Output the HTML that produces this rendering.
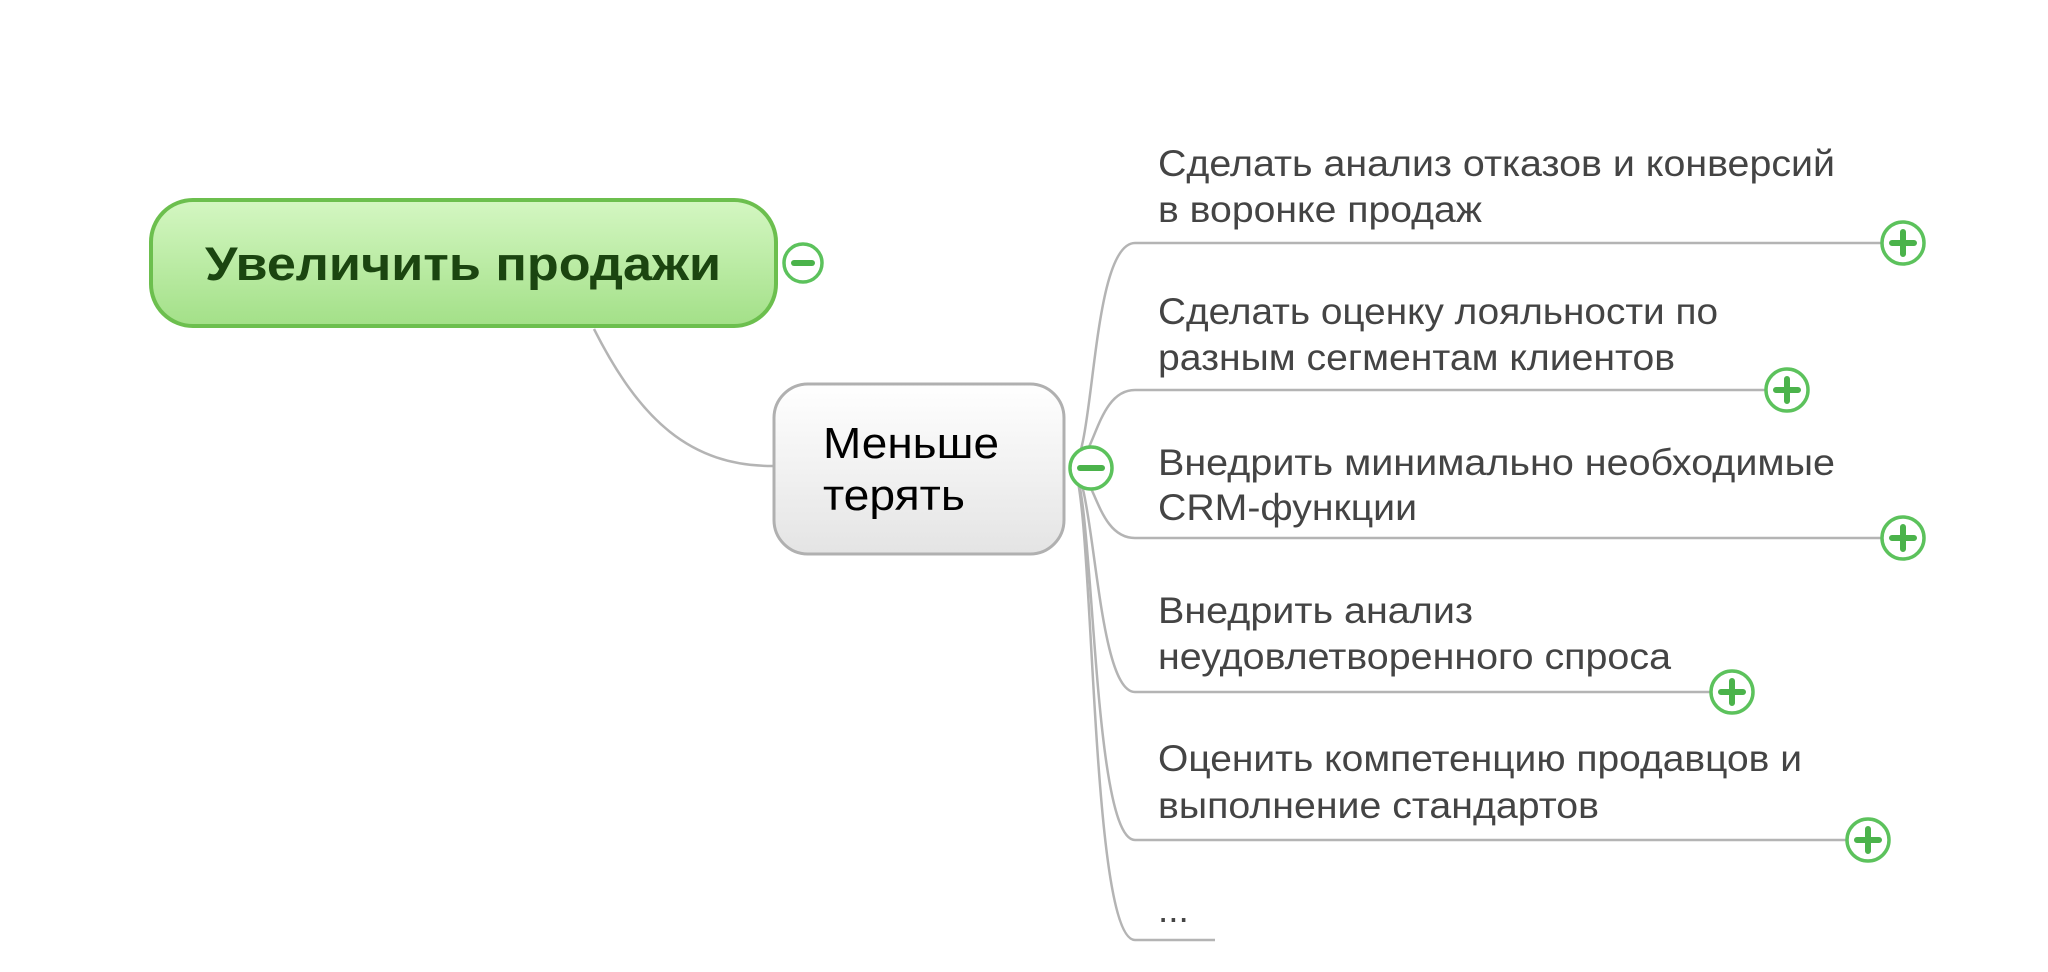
<!DOCTYPE html>
<html><head><meta charset="utf-8"><style>
html,body{margin:0;padding:0;background:#fff;}
svg{display:block;}
</style></head><body>
<svg width="2048" height="972" viewBox="0 0 2048 972" xmlns="http://www.w3.org/2000/svg">
<defs>
<linearGradient id="g1" x1="0" y1="0" x2="0" y2="1">
<stop offset="0" stop-color="#d4f7c2"/><stop offset="1" stop-color="#a3e088"/>
</linearGradient>
<linearGradient id="g2" x1="0" y1="0" x2="0" y2="1">
<stop offset="0" stop-color="#ffffff"/><stop offset="1" stop-color="#e4e4e4"/>
</linearGradient>
</defs>
<g fill="none" stroke="#b4b4b4" stroke-width="2.5">
<path d="M594,329 C640,420 690,466 773,466"/>
<path d="M1071,466 C1095,466 1090,243 1135,243 L1881,243"/>
<path d="M1071,466 C1095,466 1095,390 1135,390 L1765,390"/>
<path d="M1071,466 C1095,466 1095,538 1135,538 L1881,538"/>
<path d="M1071,466 C1095,466 1095,692 1135,692 L1710,692"/>
<path d="M1071,466 C1095,466 1090,840 1135,840 L1846,840"/>
<path d="M1071,466 C1095,466 1088,940 1135,940 L1215,940"/>
</g>
<rect x="151" y="200" width="625" height="126" rx="42" fill="url(#g1)" stroke="#6cbf4e" stroke-width="4"/>
<text x="205" y="280" textLength="516" lengthAdjust="spacingAndGlyphs" font-family="Liberation Sans, sans-serif" font-weight="bold" font-size="47" fill="#1b4510">Увеличить продажи</text>
<rect x="774" y="384" width="290" height="170" rx="34" fill="url(#g2)" stroke="#b0b0b0" stroke-width="3"/>
<g font-family="Liberation Sans, sans-serif" font-size="44" fill="#000">
<text x="823" y="458" textLength="176" lengthAdjust="spacingAndGlyphs">Меньше</text>
<text x="823" y="510" textLength="142" lengthAdjust="spacingAndGlyphs">терять</text>
</g>
<g font-family="Liberation Sans, sans-serif" font-size="37" fill="#444">
<text x="1158" y="176" textLength="677" lengthAdjust="spacingAndGlyphs">Сделать анализ отказов и конверсий</text>
<text x="1158" y="222" textLength="324" lengthAdjust="spacingAndGlyphs">в воронке продаж</text>
<text x="1158" y="324" textLength="560" lengthAdjust="spacingAndGlyphs">Сделать оценку лояльности по</text>
<text x="1158" y="370" textLength="517" lengthAdjust="spacingAndGlyphs">разным сегментам клиентов</text>
<text x="1158" y="475" textLength="677" lengthAdjust="spacingAndGlyphs">Внедрить минимально необходимые</text>
<text x="1158" y="520" textLength="259" lengthAdjust="spacingAndGlyphs">CRM-функции</text>
<text x="1158" y="623" textLength="315" lengthAdjust="spacingAndGlyphs">Внедрить анализ</text>
<text x="1158" y="669" textLength="513" lengthAdjust="spacingAndGlyphs">неудовлетворенного спроса</text>
<text x="1158" y="771" textLength="644" lengthAdjust="spacingAndGlyphs">Оценить компетенцию продавцов и</text>
<text x="1158" y="818" textLength="441" lengthAdjust="spacingAndGlyphs">выполнение стандартов</text>
<text x="1158" y="922">...</text>
</g>
<g stroke="#5cc25c" stroke-width="3.5" fill="#fff">
<circle cx="803" cy="263" r="19"/>
<circle cx="1091" cy="468" r="21"/>
<circle cx="1903" cy="243" r="21"/>
<circle cx="1787" cy="390" r="21"/>
<circle cx="1903" cy="538" r="21"/>
<circle cx="1732" cy="692" r="21"/>
<circle cx="1868" cy="840" r="21"/>
</g>
<g stroke="#4bb34b" stroke-width="6" stroke-linecap="round" fill="none">
<path d="M794,263 H812"/>
<path d="M1080,468 H1102"/>
<path d="M1892,243 H1914 M1903,232 V254"/>
<path d="M1776,390 H1798 M1787,379 V401"/>
<path d="M1892,538 H1914 M1903,527 V549"/>
<path d="M1721,692 H1743 M1732,681 V703"/>
<path d="M1857,840 H1879 M1868,829 V851"/>
</g>
</svg>
</body></html>
